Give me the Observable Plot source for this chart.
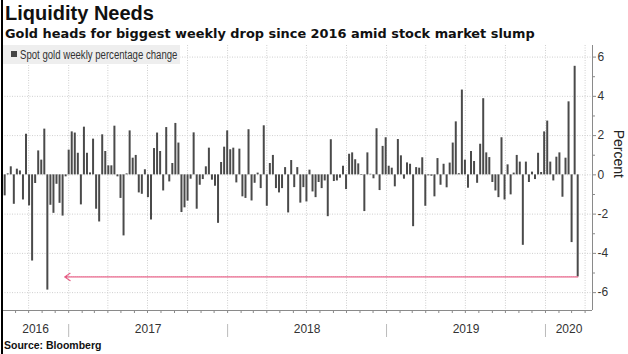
<!DOCTYPE html>
<html>
<head>
<meta charset="utf-8">
<script src="https://cdn.jsdelivr.net/npm/d3@7"></script>
<script src="https://cdn.jsdelivr.net/npm/@observablehq/plot@0.6"></script>
<style>
  html, body { margin: 0; padding: 0; background: #fff; }
  #wrap { position: relative; width: 628px; height: 354px; overflow: hidden; font-family: "Liberation Sans", Arial, sans-serif; }
  #chart svg { position: absolute; left: 0; top: 0; }
  .border { position: absolute; left: 1px; top: 0; width: 2px; height: 354px; background: #000; }
  .title { position: absolute; left: 5px; top: 2px; font-weight: bold; font-size: 20px; color: #111; white-space: nowrap; }
  .subtitle { position: absolute; left: 5px; top: 26px; font-family: "DejaVu Sans", sans-serif; font-weight: bold; font-size: 12.9px; color: #111; white-space: nowrap; }
  .legend { position: absolute; left: 3px; top: 45px; width: 177px; height: 19px; background: #eeeeee; }
  .legend .sw { position: absolute; left: 8px; top: 6px; width: 6px; height: 6px; background: #444; }
  .legend .lt { position: absolute; left: 17px; top: 3px; font-size: 12px; color: #333; white-space: nowrap; transform: scaleX(0.8); transform-origin: 0 0; }
  .source { position: absolute; left: 4px; top: 339px; font-weight: bold; font-size: 10.5px; color: #111; white-space: nowrap; }
</style>
</head>
<body>
<div id="wrap">
  <div id="chart"></div>
  <div class="border"></div>
  <div class="title">Liquidity Needs</div>
  <div class="subtitle">Gold heads for biggest weekly drop since 2016 amid stock market slump</div>
  <div class="legend"><div class="sw"></div><div class="lt">Spot gold weekly percentage change</div></div>
  <div class="source">Source: Bloomberg</div>
</div>
<script>
// Placement of the first weekly bar, one value per week after it
const firstWeek = "2016-08-07";
const weeklyChange = [
  -1.07, 0.05, 0.41, -1.5, 0.29, 0.2, -1.28, 2.07, -1.58, -4.39,
  -0.44, 1.22, 0.75, 2.33, -5.87, -1.55, -1.96, -0.48, -1.45, -2.1,
  -0.1, 1.26, 2.19, 2.13, 1.1, -1.53, 2.43, 1.1, 0.1, 1.82,
  -1.75, -2.4, 2.04, 1.19, 0.46, 0.46, 2.48, -0.1, -1.2, -3.11,
  0.05, 2.24, 0.85, 0.99, -0.92, -0.99, 0.26, -1.16, -2.3, 1.34,
  2.13, 1.19, -0.82, 2.41, -0.36, 0.58, 2.62, 1.62, -1.92, -1.68,
  -1.34, -0.22, 2.14, -1.75, -0.53, -0.24, 0.41, 1.36, -0.27, -0.58,
  -2.47, 0.63, 1.41, 2.24, 1.28, 1.36, -0.41, 1.31, -1.12, -1.2,
  2.3, -1.33, -0.43, 0.09, -0.7, 2.5, -1.6, 0.58, 0.99, -0.7,
  -0.92, -0.7, 0.37, -1.94, 0.73, -0.65, 0.37, -1.44, -0.65, -1.38,
  0.24, -0.87, -1.16, -0.39, -0.7, -0.31, -2.13, 1.79, -0.34, -0.31,
  -0.17, 0.44, -0.75, 1.05, 1.12, 0.77, 0.56, -0.03, -1.87, 1.12,
  0.03, -0.2, 2.35, -0.8, 1.45, 1.89, 0.44, 0.34, -0.61, 1.8,
  0.97, -0.22, 0.61, 0.54, -2.64, 0.37, 0.34, 0.87, -1.6, -0.05,
  -0.07, -1.12, 0.83, -0.53, 0.54, -0.66, 0.6, 1.62, 2.7, 0.06,
  4.32, 0.75, -0.68, 1.19, 0.68, -0.43, 1.56, 3.88, 1.12, 0.88,
  -0.39, -0.82, -1.16, 1.89, -1.28, 0.51, -1.02, 0.09, 0.99, 0.65,
  -3.59, 0.65, -0.39, 0.14, -0.24, 1.1, 0.12, 2.19, 2.74, 0.65,
  -0.31, 0.9, 1.12, -1.14, 0.85, 3.72, -3.45, 5.53, -5.2
];
const yTickValues = [-6, -4, -2, 0, 2, 4, 6];
const yMinorTickValues = [-5, -3, -1, 1, 3, 5];
const xDomainDates = ["2016-08-02", "2020-04-18"];
const yDomainValues = [-6.91, 6.59];
const arrowTipDate = "2016-12-23";
const axisLabel = "Percent";

const x0 = new Date(xDomainDates[0]);
const x1 = new Date(xDomainDates[1]);
const start = new Date(firstWeek);
const data = weeklyChange.map((v, i) => ({ date: d3.utcDay.offset(start, 7 * i), value: v }));
const last = data[data.length - 1];

const quarters = d3.utcMonth.every(3).range(x0, x1);
const months = d3.utcMonth.range(x0, x1);
const yearStarts = d3.utcYear.range(x0, x1);
const years = d3.utcYear.range(d3.utcYear.floor(x0), d3.utcYear.offset(d3.utcYear.floor(x1), 1))
  .filter(y => y < x1)
  .map(y => {
    const a = y < x0 ? x0 : y;
    const nxt = d3.utcYear.offset(y, 1);
    const b = nxt > x1 ? x1 : nxt;
    return { mid: new Date((+a + +b) / 2), label: d3.utcFormat("%Y")(y) };
  });

const grid = { stroke: "#cfcfcf", strokeOpacity: 1, strokeDasharray: "1,1.5" };
const axisColor = "#8a8a8a";

const chart = Plot.plot({
  width: 628,
  height: 354,
  marginTop: 45,
  marginBottom: 44,
  marginLeft: 2,
  marginRight: 36,
  style: { fontFamily: '"Liberation Sans", Arial, sans-serif', fontSize: "12px", color: "#333", background: "transparent" },
  x: { type: "utc", domain: [x0, x1], axis: null },
  y: { domain: yDomainValues, axis: null },
  marks: [
    Plot.gridY(yTickValues, grid),
    Plot.gridX(quarters, grid),
    Plot.ruleX(data, { x: "date", y1: 0, y2: "value", stroke: "#4a4a4a", strokeWidth: 2 }),
    Plot.arrow([{ xa: last.date, xb: new Date(arrowTipDate), v: last.value }], {
      x1: "xa", y1: "v", x2: "xb", y2: "v",
      stroke: "#e65a82", strokeWidth: 1.2, strokeDasharray: "1,1", headLength: 8, headAngle: 70, bend: 0
    }),
    Plot.ruleY([yDomainValues[0]], { stroke: axisColor }),
    Plot.ruleX([x1], { stroke: axisColor }),
    Plot.axisX({ ticks: months, tickSize: 3, tickFormat: () => "", stroke: axisColor }),
    Plot.axisX({ ticks: yearStarts, tickSize: 13, tickFormat: () => "", stroke: "#bbb", dy: 14 }),
    Plot.text(years, { x: "mid", frameAnchor: "bottom", text: "label", dy: 22.5, fontSize: 12, fill: "#333" }),
    Plot.axisY({ anchor: "right", ticks: yTickValues, tickSize: 3, tickPadding: 2, stroke: axisColor, fontSize: 12, label: null, tickFormat: d => String(d) }),
    Plot.axisY({ anchor: "right", ticks: yMinorTickValues, tickSize: 2, tickFormat: () => "", stroke: axisColor, label: null }),
    Plot.text([axisLabel], { frameAnchor: "right", rotate: 90, dx: 26, fontSize: 14, fill: "#222" })
  ]
});
document.getElementById("chart").appendChild(chart);
</script>
</body>
</html>
